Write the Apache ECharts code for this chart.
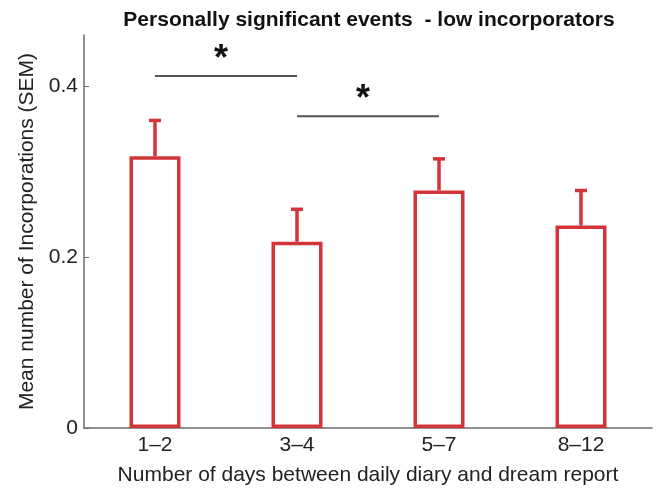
<!DOCTYPE html>
<html><head><meta charset="utf-8">
<script src="https://cdn.jsdelivr.net/npm/echarts@6/dist/echarts.min.js"></script>
<style>html,body{margin:0;padding:0;background:#fff}#c{width:656px;height:491px}</style>
</head><body><div id="c"></div>
<script>
const categories = ['1\u20132', '3\u20134', '5\u20137', '8\u201312'];
const means = [0.318, 0.218, 0.278, 0.237];
const sems = [0.042, 0.038, 0.037, 0.041];
const yTicks = [0, 0.2, 0.4];
// significance brackets: [fromIndex, toIndex, height]
const sigLines = [[0, 1, 0.412], [1, 2, 0.365]];

const red = '#d2343a';
const font = 'Liberation Sans, Arial';
const chart = echarts.init(document.getElementById('c'));
chart.setOption({
  animation: false,
  title: {
    text: 'Personally significant events  - low incorporators',
    left: 364, top: 5, textAlign: 'center',
    textStyle: {fontFamily: font, fontWeight: 'bold', fontSize: 21, color: '#111'}
  },
  grid: {left: 84, right: 4, top: 35, bottom: 61},
  xAxis: {
    type: 'category', data: categories, boundaryGap: true,
    name: 'Number of days between daily diary and dream report',
    nameLocation: 'middle', nameGap: 37,
    nameTextStyle: {fontFamily: font, fontSize: 21, color: '#222'},
    axisLine: {lineStyle: {color: '#6b6b6b', width: 1.5}},
    axisTick: {inside: true, alignWithLabel: true, length: 5, lineStyle: {color: '#6b6b6b'}},
    axisLabel: {fontFamily: font, fontSize: 21, color: '#222', margin: 7}
  },
  yAxis: {
    type: 'value', min: 0, max: 0.46, interval: 0.2,
    name: 'Mean number of Incorporations (SEM)',
    nameLocation: 'middle', nameGap: 42, nameRotate: 90,
    nameTextStyle: {fontFamily: font, fontSize: 21, color: '#222'},
    axisLine: {show: true, lineStyle: {color: '#6b6b6b', width: 1.5}},
    axisTick: {show: true, inside: true, length: 5, customValues: yTicks, lineStyle: {color: '#6b6b6b'}},
    axisLabel: {customValues: yTicks, fontFamily: font, fontSize: 21, color: '#222', margin: 6,
      formatter: v => String(v)},
    splitLine: {show: false}
  },
  series: [
    {
      type: 'bar', data: means, barWidth: 51, z: 3,
      itemStyle: {color: '#fff', borderColor: red, borderWidth: 3.5}
    },
    {
      type: 'custom', z: 2,
      data: means.map((m, i) => [i, m, m + sems[i]]),
      renderItem: function (params, api) {
        const i = api.value(0);
        const p0 = api.coord([i, api.value(1)]);
        const p1 = api.coord([i, api.value(2)]);
        return {type: 'group', children: [
          {type: 'line', shape: {x1: p0[0], y1: p0[1], x2: p1[0], y2: p1[1]}, style: {stroke: red, lineWidth: 3.5}},
          {type: 'line', shape: {x1: p1[0] - 6, y1: p1[1], x2: p1[0] + 6, y2: p1[1]}, style: {stroke: red, lineWidth: 3.5}}
        ]};
      }
    },
    {
      type: 'custom', z: 4,
      data: sigLines,
      renderItem: function (params, api) {
        const a = api.coord([api.value(0), api.value(2)]);
        const b = api.coord([api.value(1), api.value(2)]);
        return {type: 'group', children: [
          {type: 'line', shape: {x1: a[0], y1: a[1], x2: b[0], y2: b[1]}, style: {stroke: '#555', lineWidth: 2}},
          {type: 'text', x: (a[0] + b[0]) / 2 - 5, y: a[1] + 2,
            style: {text: '*', fontSize: 36, fontWeight: 'bold', fontFamily: font, fill: '#111', align: 'center', verticalAlign: 'bottom'}}
        ]};
      }
    }
  ]
});
</script></body></html>
